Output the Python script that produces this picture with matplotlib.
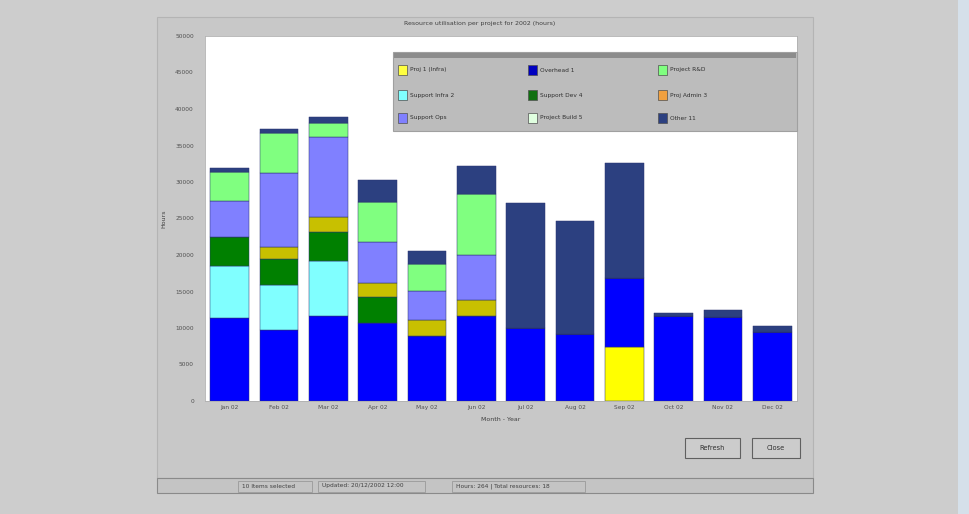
import numpy as np
import matplotlib
matplotlib.use('Agg')
from matplotlib import pyplot as plt
from matplotlib.patches import Rectangle

W, H = 969, 514

months = ['Jan 02', 'Feb 02', 'Mar 02', 'Apr 02', 'May 02', 'Jun 02',
          'Jul 02', 'Aug 02', 'Sep 02', 'Oct 02', 'Nov 02', 'Dec 02']

# hours per project, bottom to top of each stack
proj_infra = [0, 0, 0, 0, 0, 0, 0, 0, 7450, 0, 0, 0]
overhead = [11400, 9750, 11700, 10650, 8850, 11700, 10050, 9150, 9400, 11700, 11450, 9500]
support_infra = [7150, 6100, 7450, 0, 0, 0, 0, 0, 0, 0, 0, 0]
support_dev = [3850, 3600, 4000, 3550, 0, 0, 0, 0, 0, 0, 0, 0]
proj_admin = [0, 1650, 2100, 1900, 2300, 2200, 0, 0, 0, 0, 0, 0]
support_ops = [4950, 10150, 10850, 5700, 3900, 6100, 0, 0, 0, 0, 0, 0]
project_rd = [4000, 5400, 1950, 5500, 3650, 8350, 0, 0, 0, 0, 0, 0]
project_build = [0, 0, 0, 0, 0, 0, 0, 0, 0, 0, 0, 0]
other = [550, 650, 800, 3000, 1850, 3800, 17100, 15450, 15800, 350, 1050, 800]

series = [
    ('Proj 1 (Infra)', proj_infra, '#ffff00'),
    ('Overhead 1', overhead, '#0000ff'),
    ('Support Infra 2', support_infra, '#80ffff'),
    ('Support Dev 4', support_dev, '#008000'),
    ('Proj Admin 3', proj_admin, '#c8c000'),
    ('Support Ops', support_ops, '#8080ff'),
    ('Project R&D', project_rd, '#80ff80'),
    ('Project Build 5', project_build, '#e8ffe8'),
    ('Other 11', other, '#2c4080'),
]

# legend grid as laid out in the window: (series index, swatch colour)
legend_grid = [
    [(0, '#ffff40'), (1, '#0000c0'), (6, '#80ff80')],
    [(2, '#80ffff'), (3, '#107010'), (4, '#f0a040')],
    [(5, '#8080ff'), (7, '#e0ffe0'), (8, '#2c4080')],
]


def fx(x):
    return x / W


def fy(y):
    return 1 - y / H


def rect(fig, x0, y0, x1, y1, **kw):
    r = Rectangle((fx(x0), fy(y1)), fx(x1 - x0), (y1 - y0) / H,
                  transform=fig.transFigure, **kw)
    fig.add_artist(r)
    return r


def main():
    fig = plt.figure(figsize=(W / 100, H / 100), dpi=100)
    fig.patch.set_facecolor('#cdcdcd')

    # light blue strip on the right, window panel and status bar
    rect(fig, 958, 0, W, H, facecolor='#d5e0ea', edgecolor='none', zorder=-5)
    rect(fig, 157, 17, 813, 478, facecolor='#c8c8c8', edgecolor='#b4b4b4', lw=0.8, zorder=-5)
    rect(fig, 157, 478, 813, 493, facecolor='#c4c4c4', edgecolor='#8a8a8a', lw=0.8, zorder=-4)
    for x0, x1, txt in [(238, 312, '10 Items selected'),
                        (318, 425, 'Updated: 20/12/2002 12:00'),
                        (452, 585, 'Hours: 264 | Total resources: 18')]:
        rect(fig, x0, 481, x1, 492, facecolor='none', edgecolor='#9a9a9a', lw=0.6, zorder=-3)
        fig.text(fx(x0 + 4), fy(486), txt, fontsize=4.2, color='#404040', va='center')

    # buttons
    for x0, x1, txt in [(685, 740, 'Refresh'), (752, 800, 'Close')]:
        rect(fig, x0, 438, x1, 458, facecolor='#cccccc', edgecolor='#606060', lw=0.8, zorder=-3)
        fig.text(fx((x0 + x1) / 2), fy(448), txt, fontsize=4.8, color='#303030',
                 ha='center', va='center')

    fig.text(fx(480), fy(23), 'Resource utilisation per project for 2002 (hours)',
             fontsize=4.5, color='#404040', ha='center', va='center')

    ax = fig.add_axes([fx(205), fy(401), fx(592), 365 / H])
    ax.set_zorder(1)
    ax.set_facecolor('white')
    x = np.arange(len(months))
    bottom = np.zeros(len(months))
    for name, vals, col in series:
        vals = np.array(vals, dtype=float)
        ax.bar(x, vals, width=0.79, bottom=bottom, color=col, edgecolor='#2a3470',
               linewidth=0.35, zorder=2)
        bottom += vals

    ax.set_xlim(-0.5, len(months) - 0.5)
    ax.set_ylim(0, 50000)
    ax.set_yticks(np.arange(0, 50001, 5000))
    ax.set_xticks(x)
    ax.set_xticklabels(months)
    ax.tick_params(axis='y', labelsize=4.2, colors='#505050', length=0, pad=8)
    ax.tick_params(axis='x', labelsize=4.2, colors='#505050', length=0, pad=3)
    for s in ax.spines.values():
        s.set_color('#b0b0b0')
        s.set_linewidth(0.6)
    ax.set_ylabel('Hours', fontsize=4.5, color='#404040', labelpad=6)
    ax.set_xlabel('Month - Year', fontsize=4.5, color='#404040', labelpad=5)

    # legend panel, on top of the plot
    lx0, ly0, lx1, ly1 = 393, 52, 797, 131
    rect(fig, lx0, ly0, lx1, ly1, facecolor='#bcbcbc', edgecolor='#a0a0a0', lw=0.8, zorder=10)
    rect(fig, lx0 + 1, ly0 + 1, lx1 - 1, ly0 + 6, facecolor='#8c8c8c', edgecolor='none', zorder=11)
    col_x = [398, 528, 658]
    row_y = [70, 95, 118]
    for r, row in enumerate(legend_grid):
        for c, (idx, col) in enumerate(row):
            rect(fig, col_x[c], row_y[r] - 5, col_x[c] + 9, row_y[r] + 5,
                 facecolor=col, edgecolor='#505050', lw=0.5, zorder=12)
            fig.text(fx(col_x[c] + 12), fy(row_y[r]), series[idx][0], fontsize=4.2,
                     color='#303030', va='center', zorder=12)

    fig.savefig('out.png', dpi=100, facecolor=fig.get_facecolor())


if __name__ == '__main__':
    main()
